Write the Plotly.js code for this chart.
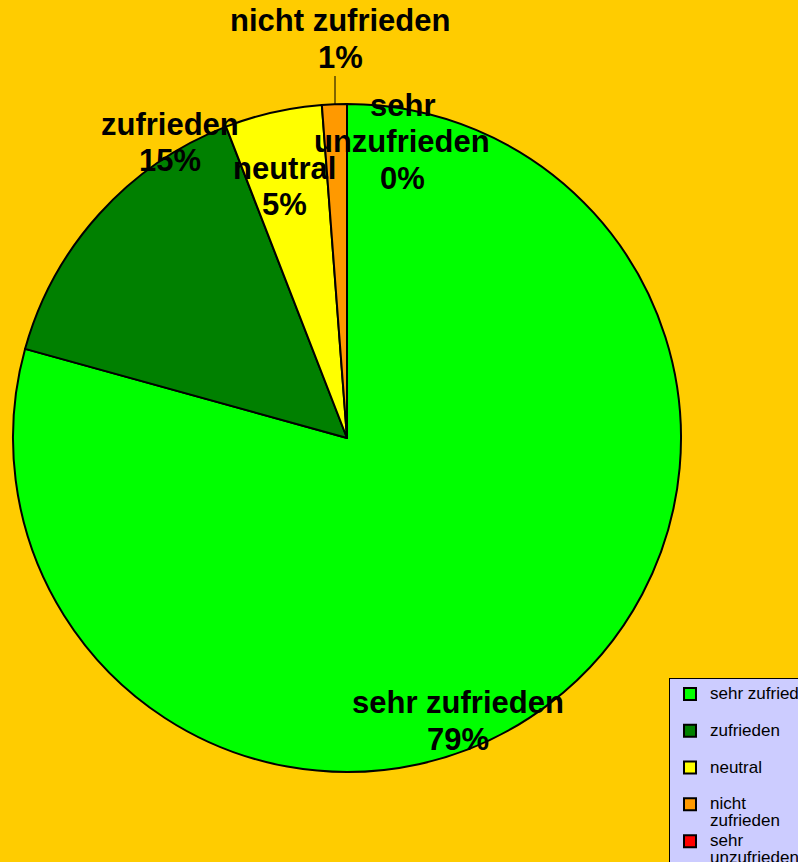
<!DOCTYPE html>
<html>
<head>
<meta charset="utf-8">
<script src="https://cdn.plot.ly/plotly-3.0.1.min.js"></script>
<style>
html,body{margin:0;padding:0;background:#FFCC00;}
#chart{width:798px;height:862px;}
</style>
</head>
<body>
<div id="chart"></div>
<script>
// ---- data ----
var categories = ['sehr zufrieden', 'zufrieden', 'neutral', 'nicht zufrieden', 'sehr unzufrieden'];
var values = [79.3, 14.8, 4.7, 1.2, 0.0];
var sliceColors = ['#00FF00', '#008000', '#FFFF00', '#FF9900', '#FF0000'];
var labelLines = [['sehr zufrieden'], ['zufrieden'], ['neutral'], ['nicht zufrieden'], ['sehr', 'unzufrieden']];
var legendLines = [['sehr zufrieden', '\u00a0'], ['zufrieden', '\u00a0'], ['neutral', '\u00a0'], ['nicht', 'zufrieden'], ['sehr', 'unzufrieden']];

// ---- layout helpers ----
var W = 798, H = 862;
function px(x) { return x / W; }
function py(y) { return 1 - y / H; }

var total = values.reduce(function (a, b) { return a + b; }, 0);
var pcts = values.map(function (v) { return Math.round(v / total * 100); });

// label block centres (pixels) and line spacing
var labelPos = [[458, 721], [170, 142.5], [284, 186.5], [340, 39], [402, 141.5]];
var lineGap = 36.5;
var labelFont = {family: 'Liberation Sans, Arial, sans-serif', size: 31, color: '#000000', weight: 'bold'};

var annotations = [];
categories.forEach(function (c, i) {
  var lines = labelLines[i].concat([pcts[i] + '%']);
  var n = lines.length;
  lines.forEach(function (t, k) {
    annotations.push({
      xref: 'paper', yref: 'paper',
      x: px(labelPos[i][0]), y: py(labelPos[i][1] + (k - (n - 1) / 2) * lineGap),
      xanchor: 'center', yanchor: 'middle',
      text: t, showarrow: false, font: labelFont
    });
  });
});

var legendLabels = legendLines.map(function (ls) {
  return ls.map(function (t) { return '<span style="font-size:17px">' + t + '</span>'; }).join('<br>');
});

var trace = {
  type: 'pie',
  labels: legendLabels,
  values: values,
  sort: false,
  direction: 'clockwise',
  rotation: 0,
  textinfo: 'none',
  hoverinfo: 'none',
  marker: {colors: sliceColors, line: {color: '#000000', width: 2}},
  domain: {x: [px(13), px(681)], y: [py(772), py(104)]}
};

var layout = {
  width: W, height: H,
  paper_bgcolor: '#FFCC00',
  plot_bgcolor: '#FFCC00',
  margin: {l: 0, r: 0, t: 0, b: 0, autoexpand: false},
  showlegend: true,
  legend: {
    x: px(669), y: py(678), xanchor: 'left', yanchor: 'top',
    bgcolor: '#CCCCFF', bordercolor: '#000000', borderwidth: 1,
    font: {family: 'Liberation Sans, Arial, sans-serif', size: 13, color: '#000000'},
    valign: 'top',
    itemwidth: 30,
    traceorder: 'normal'
  },
  annotations: annotations,
  shapes: [{
    type: 'line', xref: 'paper', yref: 'paper',
    x0: px(335), x1: px(335), y0: py(76), y1: py(105),
    line: {color: '#000000', width: 1}
  }]
};

Plotly.newPlot('chart', [trace], layout, {displayModeBar: false, staticPlot: true});
</script>
</body>
</html>
